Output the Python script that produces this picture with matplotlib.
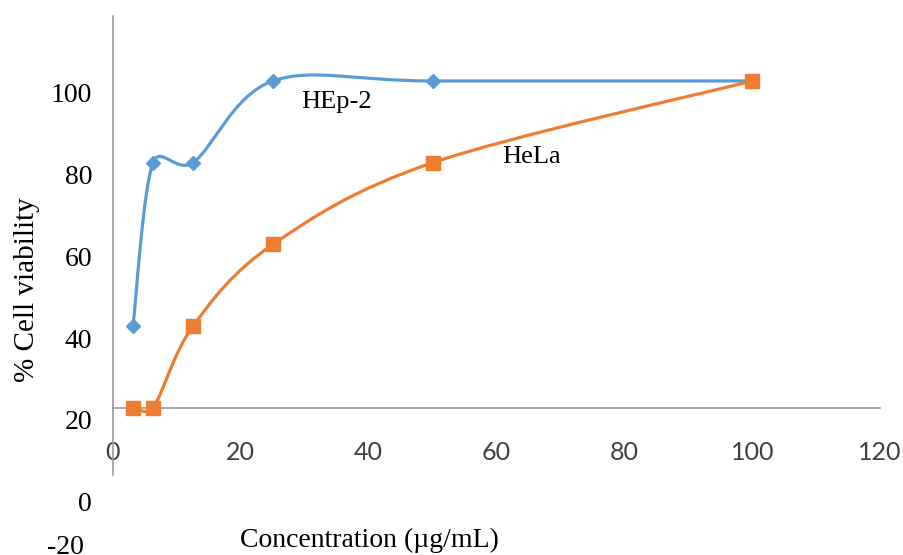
import matplotlib
matplotlib.use('Agg')
import matplotlib.pyplot as plt
import numpy as np
from matplotlib.path import Path
from matplotlib.patches import PathPatch
from matplotlib.transforms import ScaledTranslation

# data
conc = [3.125, 6.25, 12.5, 25, 50, 100]
hep2 = [40, 80, 80, 100, 100, 100]
hela = [20, 20, 40, 60, 80, 100]
x_ticks = [0, 20, 40, 60, 80, 100, 120]
y_ticks = [0, 20, 40, 60, 80, 100]

blue = '#5B9BD5'
orange = '#ED7D31'
axis_grey = '#9a9a9a'


def smooth_path(ax, xs, ys):
    # excel style smoothed line: bezier segments, catmull-rom tangents
    # capped at half the segment length (worked out in screen space)
    pts = ax.transData.transform(np.column_stack([xs, ys]))
    n = len(pts)
    verts = [pts[0]]
    codes = [Path.MOVETO]
    for i in range(n - 1):
        p0, p1, p2, p3 = pts[max(i - 1, 0)], pts[i], pts[i + 1], pts[min(i + 2, n - 1)]
        seg = np.hypot(*(p2 - p1))
        t1, t2 = p2 - p0, p3 - p1
        f1 = min(1 / 6.0, 0.5 * seg / max(np.hypot(*t1), 1e-9))
        f2 = min(1 / 6.0, 0.5 * seg / max(np.hypot(*t2), 1e-9))
        verts.extend([p1 + t1 * f1, p2 - t2 * f2, p2])
        codes.extend([Path.CURVE4] * 3)
    verts = ax.transData.inverted().transform(np.array(verts))
    return Path(verts, codes)


fig = plt.figure(figsize=(9.04, 5.55), dpi=100)
ax = fig.add_axes([0.125, 0.044, 0.8485, 0.9272])
ax.set_xlim(0, 120)
ax.set_ylim(-10, 115.9)

ax.add_patch(PathPatch(smooth_path(ax, conc, hep2), fill=False, edgecolor=blue, lw=2.3, zorder=2))
ax.plot(conc, hep2, 'D', color=blue, markersize=7.5, zorder=3)
ax.add_patch(PathPatch(smooth_path(ax, conc, hela), fill=False, edgecolor=orange, lw=2.3, zorder=4))
ax.plot(conc, hela, 's', color=orange, markersize=10.5, zorder=5)

for s in ['top', 'right']:
    ax.spines[s].set_visible(False)
ax.spines['bottom'].set_position(('data', 20))
ax.spines['left'].set_bounds(3.6, 115.9)
for s in ['left', 'bottom']:
    ax.spines[s].set_color(axis_grey)
    ax.spines[s].set_linewidth(1.2)

ax.set_xticks(x_ticks)
ax.set_xticklabels([str(v) for v in x_ticks], family='Lato', fontsize=18, color='#404040')
ax.tick_params(axis='x', length=0, pad=24)

ax.set_yticks(y_ticks)
ax.set_yticklabels([str(v) for v in y_ticks], family='Liberation Serif', fontsize=20, color='black')
ax.tick_params(axis='y', length=0, pad=15)
# the value labels sit a little below their gridline in the original
shift = ScaledTranslation(0, -12 / 100.0, fig.dpi_scale_trans)
for lab in ax.get_yticklabels():
    lab.set_transform(lab.get_transform() + shift)
ax.text(-4.6, -11.3, '-20', transform=ax.transData + shift, ha='right', va='center',
        family='Liberation Serif', fontsize=20, clip_on=False)

ax.text(35.0, 94.8, 'HEp-2', family='Liberation Serif', fontsize=19, ha='center', va='center')
ax.text(65.5, 81.5, 'HeLa', family='Liberation Serif', fontsize=19, ha='center', va='center')

fig.text(27 / 904, 1 - 290 / 555, '% Cell viability', rotation=90, ha='center', va='center',
         family='Liberation Serif', fontsize=21)
fig.text(369 / 904, 1 - 540 / 555, 'Concentration (µg/mL)', ha='center', va='center',
         family='Liberation Serif', fontsize=20)

fig.savefig('out.png', dpi=100)
